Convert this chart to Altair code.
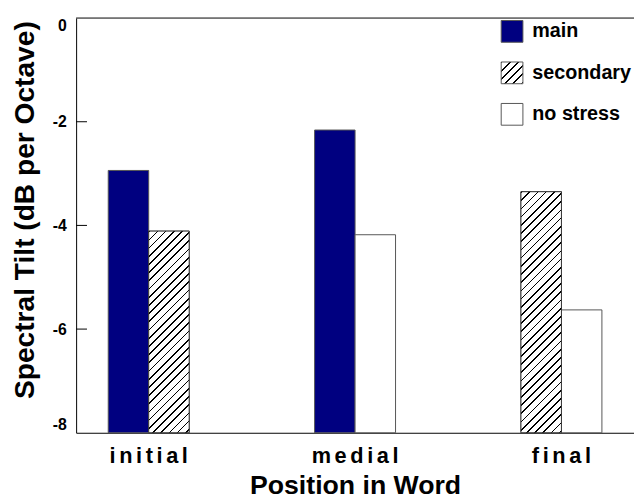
import altair as alt
import pandas as pd

# ---------------- data ----------------
positions = ["initial", "medial", "final"]
stress_types = ["main", "secondary", "no stress"]
main_vals = [-2.94, -2.16, None]
secondary_vals = [-4.11, None, -3.35]
nostress_vals = [None, -4.18, -5.63]
y_ticks = [-8, -6, -4, -2, 0]
inner_ticks = [-6, -4, -2]

series = {"main": main_vals, "secondary": secondary_vals, "no stress": nostress_vals}
rows = []
for i, p in enumerate(positions):
    slot = 0
    for s in stress_types:
        v = series[s][i]
        if v is None:
            continue
        rows.append({"position": p, "stress": s, "value": v, "slot": slot})
        slot += 1
df = pd.DataFrame(rows)

# ---------------- layout / style ----------------
W, H = 565, 420
BAR_W = 41.0
FONT = "Liberation Sans"
NAVY = "#000080"
YMIN, YMAX = min(y_ticks), max(y_ticks)


def hatch_stops(w, h, period=8.3, lw=1.7):
    L = w + h
    stops = []
    pos = 0.0
    while pos < L:
        a = pos / L
        b = min(pos + lw, L) / L
        c = min(pos + period, L) / L
        stops += [(a, "#000000"), (b, "#000000"), (b, "#ffffff"), (c, "#ffffff")]
        pos += period
    return [(round(o, 5), col) for o, col in stops]


def hatch_gradient(w, h):
    a = (w + h) / (w * w + h * h)
    return {
        "gradient": "linear",
        "x1": 0, "y1": 0, "x2": round(a * w, 6), "y2": round(a * h, 6),
        "stops": [{"offset": o, "color": c} for o, c in hatch_stops(w, h)],
    }


def hatch_expr(w, h):
    g = hatch_gradient(w, h)
    stops = ",".join("{offset:%s,color:'%s'}" % (s["offset"], s["color"]) for s in g["stops"])
    return "{gradient:'linear',x1:0,y1:0,x2:%s,y2:%s,stops:[%s]}" % (g["x2"], g["y2"], stops)


SWATCH = 22
legend_hatch = alt.ExprRef(expr=hatch_expr(SWATCH, SWATCH))

x_enc = alt.X(
    "position:N", sort=positions,
    scale=alt.Scale(domain=positions, paddingInner=0.6077, paddingOuter=0.1555),
    axis=alt.Axis(
        title="Position in Word", labelAngle=0, ticks=False, tickSize=0,
        labelPadding=13, labelFontSize=22, labelFont=FONT, labelFontWeight="bold",
        labelColor="black", labelExpr="join(split(datum.label, ''), '\u2006')",
        titleFontSize=27, titleFont=FONT, titleFontWeight="bold", titleColor="black",
        titlePadding=7, domainColor="black",
    ),
)
xoff_enc = alt.XOffset("slot:O", scale=alt.Scale(paddingInner=0, paddingOuter=0))
y_enc = alt.Y(
    "value:Q",
    scale=alt.Scale(domain=[YMIN, YMAX], nice=False, zero=False),
    axis=alt.Axis(
        title="Spectral Tilt (dB per Octave)", values=y_ticks, ticks=False,
        labelFlush=True, labelPadding=10, labelFontSize=16, labelFont=FONT,
        labelFontWeight="bold", labelColor="black", labelExpr="'' + datum.value",
        grid=False, titleFontSize=28.5, titleFont=FONT, titleFontWeight="bold",
        titleColor="black", titleX=-52, titleY=194, titleAngle=270,
        titleAlign="center", titleBaseline="middle", domainColor="black",
    ),
)

base = alt.Chart(df).mark_bar(stroke="#555555", strokeWidth=1).encode(
    x=x_enc,
    xOffset=xoff_enc,
    y=y_enc,
    y2=alt.datum(YMIN),
    fill=alt.Fill(
        "stress:N",
        scale=alt.Scale(domain=stress_types, range=[NAVY, legend_hatch, "#ffffff"]),
        legend=alt.Legend(
            title=None, orient="none", legendX=430, legendY=2,
            symbolType="square", symbolSize=SWATCH * SWATCH,
            symbolStrokeColor="#555555", symbolStrokeWidth=1,
            labelFontSize=20, labelFont=FONT, labelFontWeight="bold",
            labelColor="black", labelOffset=9, rowPadding=15, padding=0,
            labelLimit=400,
        ),
    ),
)

overlays = []
for r in df[df["stress"] == "secondary"].itertuples():
    h = H * (r.value - YMIN) / (YMAX - YMIN)
    overlays.append(
        alt.Chart(df)
        .transform_filter(f"datum.position == '{r.position}' && datum.stress == 'secondary'")
        .mark_bar(fill=hatch_gradient(BAR_W, h), stroke="#333333", strokeWidth=1)
        .encode(x=alt.X("position:N", sort=positions), xOffset="slot:O",
                y="value:Q", y2=alt.datum(YMIN))
    )

top_rule = alt.Chart(pd.DataFrame({"value": [YMAX]})).mark_rule(
    color="black", strokeWidth=1).encode(y="value:Q")
tick_rules = alt.Chart(pd.DataFrame({"value": inner_ticks})).mark_rule(
    color="black", strokeWidth=1).encode(y="value:Q", x=alt.value(0), x2=alt.value(11))

chart = (
    alt.layer(base, *overlays, top_rule, tick_rules)
    .properties(
        width=W, height=H,
        padding={"left": 69, "top": 7, "right": 0, "bottom": 72},
        autosize=alt.AutoSizeParams(type="none"),
    )
    .configure_view(stroke=None)
    .configure_axis(domainColor="black", domainWidth=1, grid=False)
)

chart.save("out.html", embed_options={"renderer": "svg", "actions": False})
